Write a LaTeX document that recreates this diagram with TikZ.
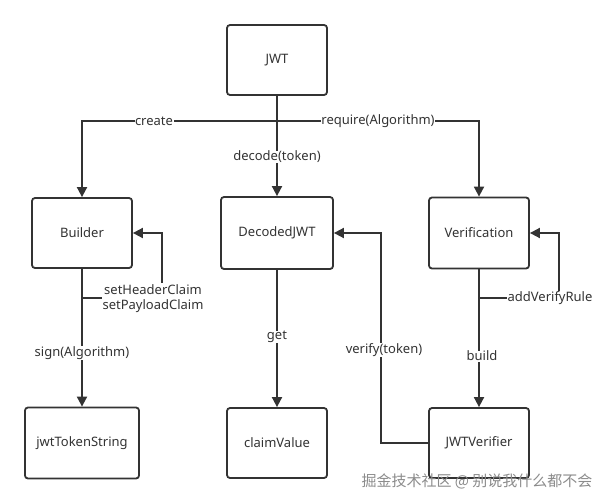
\documentclass[tikz,border=0pt]{standalone}
\usepackage{fontspec}
\setmainfont{Noto Sans}
\newfontfamily\cjk{Noto Sans CJK SC}
\usetikzlibrary{arrows.meta}
\definecolor{ink}{HTML}{333333}
\definecolor{wm}{HTML}{8C8C8C}
\tikzset{
  box/.style={draw=ink, line width=1.8pt, rounded corners=3pt, fill=white,
    minimum width=100pt, minimum height=70pt, inner sep=0pt,
    font=\fontsize{13}{15}\selectfont, text=ink},
  conn/.style={draw=ink, line width=1.8pt, -{Triangle[length=10pt,width=10pt]}},
  plain/.style={draw=ink, line width=1.8pt},
  lbl/.style={fill=white, inner sep=0.5pt, font=\fontsize{13}{15.5}\selectfont, text=ink, align=center}
}
\begin{document}
\begin{tikzpicture}[x=1pt,y=-1pt]
\useasboundingbox (0,0) rectangle (609,503);
\fill[white] (0,0) rectangle (609,503);
% nodes
\node[box] (jwt) at (277,60) {JWT};
\node[box] (builder) at (82,233) {Builder};
\node[box, minimum width=112pt, minimum height=72pt] (decoded) at (277,233) {DecodedJWT};
\node[box, minimum height=71pt] (verification) at (479,233) {Verification};
\node[box, minimum width=114pt, minimum height=71pt] (token) at (82,443) {jwtTokenString};
\node[box] (claim) at (277,443) {claimValue};
\node[box] (verifier) at (479,443) {JWTVerifier};
% helper coordinates
\coordinate (split) at (277,121);
\coordinate (bl) at (82,298);
\coordinate (bc) at (162,298);
\coordinate (vl) at (479,298);
\coordinate (vc) at (559,298);
\coordinate (vt) at (381,443);
% edges from JWT
\draw[conn] (jwt.south) -- (split) -| (builder.north);
\draw[conn] (jwt.south) -- (split) -| (verification.north);
\draw[conn] (jwt.south) -- (decoded.north);
\node[lbl] at (154,121) {create};
\node[lbl] at (378,121) {require(Algorithm)};
\node[lbl] at (277,157) {decode(token)};
% builder
\draw[conn] (builder.south) -- (token.north);
\draw[conn] (bl) -- (bc) -- (bc |- builder.east) -- (builder.east);
\node[lbl, inner sep=1pt] at (153,298.5) {setHeaderClaim\\setPayloadClaim};
\node[lbl] at (82,353) {sign(Algorithm)};
% decoded
\draw[conn] (decoded.south) -- (claim.north);
\node[lbl] at (277,337) {get};
% verification
\draw[conn] (verification.south) -- (verifier.north);
\draw[conn] (vl) -- (vc) -- (vc |- verification.east) -- (verification.east);
\node[lbl] at (550,298) {addVerifyRule};
\node[lbl] at (482,356) {build};
% verify
\draw[conn] (verifier.west) -- (vt) -- (vt |- decoded.east) -- (decoded.east);
\node[lbl] at (384,350) {verify(token)};
% watermark
\node[text=wm, font=\cjk\fontsize{15}{17}\selectfont, inner sep=0pt] (wmark) at (477,481) {掘金技术社区 @ 别说我什么都不会};
\end{tikzpicture}
\end{document}
